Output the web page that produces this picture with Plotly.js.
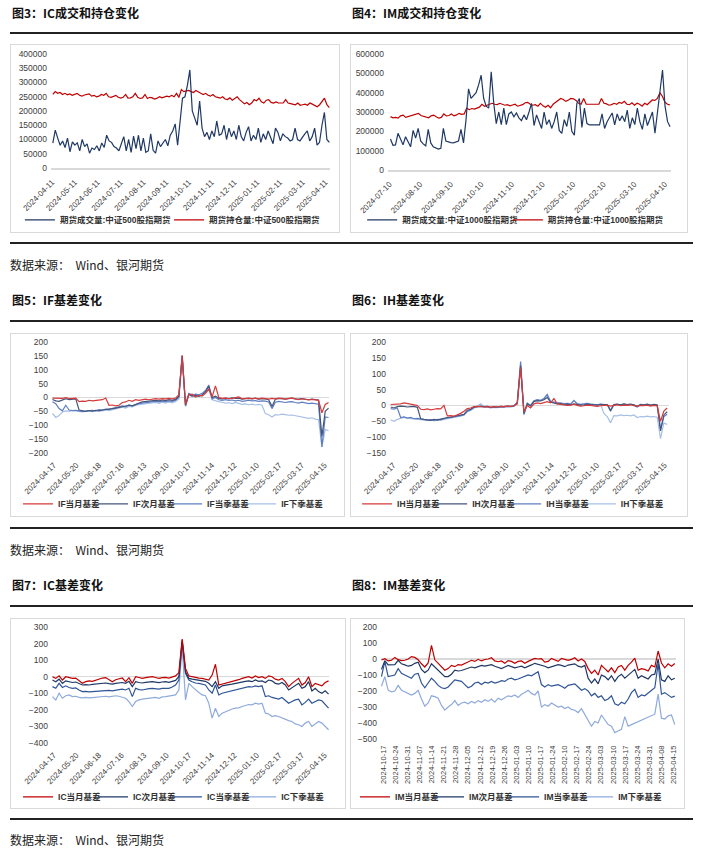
<!DOCTYPE html>
<html><head><meta charset="utf-8">
<script src="https://cdn.plot.ly/plotly-3.0.1.min.js"></script>
<style>
body{margin:0;background:#fff;width:703px;height:848px;position:relative;overflow:hidden;font-family:'Noto Sans CJK SC',sans-serif;}
.t{position:absolute;font-size:12px;line-height:14px;font-weight:bold;color:#111;white-space:nowrap;}
.s{position:absolute;font-size:12px;line-height:14px;color:#222;white-space:pre;}
.hr{position:absolute;height:1.5px;background:#222;left:10px;width:683px;}
.box{position:absolute;border:1px solid #d9d9d9;box-sizing:border-box;}
.pl{position:absolute;}
</style></head><body>
<div class="t" style="left:12px;top:6px">图3：IC成交和持仓变化</div>
<div class="t" style="left:352px;top:6px">图4：IM成交和持仓变化</div>
<div class="hr" style="top:32px"></div>
<div class="box" style="left:10px;top:44px;width:330px;height:189px"></div>
<div class="box" style="left:350px;top:44px;width:338px;height:189px"></div>
<div class="hr" style="top:242px"></div>
<div class="s" style="left:10px;top:258px">数据来源：  Wind、银河期货</div>

<div class="t" style="left:12px;top:293px">图5：IF基差变化</div>
<div class="t" style="left:352px;top:293px">图6：IH基差变化</div>
<div class="hr" style="top:320px"></div>
<div class="box" style="left:10px;top:333px;width:335px;height:184px"></div>
<div class="box" style="left:350px;top:333px;width:338px;height:184px"></div>
<div class="hr" style="top:527px"></div>
<div class="s" style="left:10px;top:543px">数据来源：  Wind、银河期货</div>

<div class="t" style="left:12px;top:578px">图7：IC基差变化</div>
<div class="t" style="left:352px;top:578px">图8：IM基差变化</div>
<div class="hr" style="top:605px"></div>
<div class="box" style="left:10px;top:618px;width:336px;height:191px"></div>
<div class="box" style="left:350px;top:618px;width:335px;height:191px"></div>
<div class="hr" style="top:818px"></div>
<div class="s" style="left:10px;top:833px">数据来源：  Wind、银河期货</div>

<div id="p1" class="pl" style="left:10px;top:44px"></div>
<div id="p2" class="pl" style="left:350px;top:44px"></div>
<div id="p3" class="pl" style="left:10px;top:333px"></div>
<div id="p4" class="pl" style="left:350px;top:333px"></div>
<div id="p5" class="pl" style="left:10px;top:618px"></div>
<div id="p6" class="pl" style="left:350px;top:618px"></div>
<script>
// ---------- tick labels ----------
const icVolTicks = ['2024-04-11','2024-05-11','2024-06-11','2024-07-11','2024-08-11','2024-09-11','2024-10-11','2024-11-11','2024-12-11','2025-01-11','2025-02-11','2025-03-11','2025-04-11'];
const imVolTicks = ['2024-07-10','2024-08-10','2024-09-10','2024-10-10','2024-11-10','2024-12-10','2025-01-10','2025-02-10','2025-03-10','2025-04-10'];
const basisTicks = ['2024-04-17','2024-05-20','2024-06-18','2024-07-16','2024-08-13','2024-09-10','2024-10-17','2024-11-14','2024-12-12','2025-01-10','2025-02-17','2025-03-17','2025-04-15'];
const imBasisTicks = ['2024-10-17','2024-10-24','2024-10-31','2024-11-07','2024-11-14','2024-11-21','2024-11-28','2024-12-05','2024-12-12','2024-12-19','2024-12-26','2025-01-03','2025-01-10','2025-01-17','2025-01-24','2025-02-10','2025-02-17','2025-02-24','2025-03-03','2025-03-10','2025-03-17','2025-03-24','2025-03-31','2025-04-08','2025-04-15'];

// ---------- 图3 IC 成交/持仓 ----------
const icVolume = [87000,133000,105000,80000,95000,72000,105000,57000,92000,80000,
88000,60000,100000,75000,85000,52000,70000,65000,78000,60000,
88000,72000,115000,95000,90000,75000,70000,60000,85000,110000,
60000,100000,55000,112000,68000,115000,60000,105000,55000,60000,
120000,62000,52000,95000,75000,90000,100000,78000,115000,130000,
155000,80000,160000,245000,250000,290000,344000,200000,175000,150000,
235000,140000,110000,125000,100000,130000,110000,165000,115000,120000,
150000,100000,140000,110000,130000,100000,150000,110000,95000,125000,
145000,95000,115000,100000,140000,90000,120000,100000,130000,110000,
85000,140000,125000,95000,120000,110000,105000,95000,100000,140000,
100000,95000,110000,120000,130000,95000,110000,140000,80000,90000,
150000,195000,100000,90000];
const icOpenInt = [258000,268000,262000,265000,258000,262000,257000,260000,255000,258000,
262000,255000,252000,256000,258000,260000,252000,255000,250000,252000,
258000,255000,262000,250000,248000,252000,255000,248000,245000,248000,
258000,245000,246000,250000,262000,248000,244000,246000,258000,244000,
248000,246000,242000,245000,250000,246000,248000,252000,250000,255000,
250000,262000,248000,275000,268000,270000,272000,268000,265000,272000,
266000,262000,258000,262000,255000,252000,258000,250000,248000,245000,
250000,242000,240000,246000,238000,245000,250000,240000,232000,225000,
230000,222000,228000,240000,236000,245000,232000,228000,238000,240000,
230000,228000,232000,228000,228000,228000,240000,228000,226000,225000,
222000,228000,220000,222000,224000,220000,228000,224000,218000,215000,
222000,232000,245000,222000,212000];

// ---------- 图4 IM 成交/持仓 ----------
const imVolume = [160000,128000,130000,190000,160000,130000,172000,145000,120000,205000,
165000,215000,150000,135000,125000,210000,140000,120000,115000,108000,
112000,215000,150000,145000,142000,140000,145000,150000,210000,140000,
260000,420000,370000,385000,400000,440000,490000,370000,330000,320000,508000,345000,
240000,300000,235000,320000,235000,290000,300000,275000,295000,270000,
255000,285000,260000,300000,345000,230000,285000,250000,215000,300000,
235000,260000,215000,250000,300000,205000,190000,260000,225000,300000,
200000,180000,345000,370000,220000,320000,
240000,233000,233000,233000,233000,233000,290000,215000,250000,275000,
295000,233000,290000,255000,280000,250000,310000,215000,270000,235000,
320000,250000,210000,290000,230000,265000,300000,190000,300000,390000,
517000,330000,250000,224000];
const imOpenInt = [276000,270000,272000,268000,280000,284000,272000,276000,280000,285000,
290000,293000,282000,278000,275000,270000,280000,284000,275000,268000,
272000,290000,280000,282000,290000,280000,285000,293000,288000,290000,
320000,312000,318000,315000,320000,325000,340000,330000,335000,340000,345000,
340000,338000,345000,340000,335000,338000,332000,336000,340000,330000,
335000,338000,348000,350000,340000,335000,338000,330000,345000,332000,
325000,335000,322000,340000,350000,360000,370000,365000,355000,362000,
370000,368000,360000,345000,340000,370000,
340000,340000,340000,340000,340000,340000,370000,345000,342000,335000,
338000,345000,340000,350000,345000,355000,340000,338000,348000,335000,
345000,340000,330000,345000,338000,350000,362000,360000,370000,400000,
380000,350000,340000,336000];

// ---------- 图5 IF 基差 ----------
const ifCurMonth = [-2,-3,-4,-3,0,-4,-3,-2,-15,-13,-14,-10,-12,-10,-8,-8,-2,-28,-27,-30,-28,-18,-16,-10,-14,-8,-10,-7,-6,-8,-5,-4,-6,-4,-5,-3,-5,-2,10,150,-25,10,12,2,8,5,15,30,2,42,0,-3,-2,-4,-3,-1,2,-5,-3,-2,-4,-3,-5,-2,-4,-6,-3,-5,-2,-4,-6,-3,-2,-5,-8,-4,-6,-9,-7,-8,-10,-55,-25,-18];
const ifNextMonth = [-7,-12,-14,-8,-4,-8,-6,-5,-45,-48,-50,-47,-49,-46,-48,-45,-44,-42,-40,-38,-36,-33,-32,-28,-30,-24,-20,-16,-15,-13,-12,-10,-12,-9,-11,-8,-10,-7,5,150,-28,12,5,8,4,10,20,40,0,5,-3,-5,-2,-4,-1,-3,-2,-6,-4,-3,-5,-2,-6,-4,-5,-8,-32,-6,-4,-3,-6,-4,-2,-5,-6,-4,-5,-8,-6,-7,-9,-140,-50,-38];
const ifCurQuarter = [-15,-22,-40,-48,-28,-45,-47,-46,-48,-50,-49,-47,-46,-48,-44,-45,-42,-43,-40,-38,-35,-30,-34,-27,-30,-25,-22,-20,-18,-17,-16,-14,-16,-13,-15,-12,-14,-10,0,152,-30,15,8,12,10,15,25,45,-5,0,-8,-10,-8,-10,-9,-12,-10,-14,-12,-10,-12,-11,-14,-12,-13,-16,-40,-17,-14,-15,-18,-16,-15,-18,-20,-17,-19,-22,-20,-21,-24,-178,-70,-72];
const ifNextQuarter = [-57,-72,-65,-52,-48,-50,-47,-49,-50,-52,-50,-48,-51,-49,-47,-48,-45,-47,-44,-42,-40,-35,-38,-32,-34,-28,-26,-24,-22,-21,-20,-18,-21,-17,-20,-16,-19,-14,-5,140,-32,10,2,6,4,8,15,30,-8,-12,-15,-17,-20,-19,-22,-18,-21,-25,-23,-26,-24,-27,-25,-28,-58,-62,-70,-62,-63,-60,-62,-64,-63,-65,-67,-70,-72,-75,-73,-78,-80,-178,-115,-120];

// ---------- 图6 IH 基差 ----------
const ihCurMonth = [3,4,3,5,8,5,4,2,0,-12,-13,-11,-14,-12,-10,-11,0,-33,-32,-34,-30,-25,-18,-10,-8,-4,-3,-4,-5,-3,-6,-4,-5,-3,-4,-2,-3,-1,5,120,-20,0,-8,5,8,6,10,12,8,22,5,3,2,0,1,4,0,-2,-1,1,0,-2,-3,-1,0,1,-2,0,2,-1,1,0,2,-1,-2,0,-1,1,-2,0,-1,-50,-18,-8];
const ihNextMonth = [-5,-8,-4,-2,-3,-5,-4,-3,-6,-42,-44,-45,-47,-44,-46,-43,-40,-38,-37,-35,-33,-30,-28,-15,-12,-5,-3,-2,-4,-3,-6,-4,-5,-3,-4,-2,-3,-1,8,125,-25,5,-2,12,15,14,18,25,10,8,5,6,3,4,2,5,3,1,2,4,3,2,1,3,2,3,-15,3,4,2,5,3,4,2,-3,3,2,4,1,3,2,-80,-30,-20];
const ihCurQuarter = [-10,-12,-8,-38,-36,-40,-38,-42,-41,-43,-44,-46,-45,-47,-44,-45,-42,-40,-38,-37,-35,-32,-30,-18,-14,-6,-4,-3,-5,-4,-7,-5,-6,-4,-5,-3,-4,-2,10,138,-28,8,0,15,18,16,22,35,12,10,8,7,5,6,4,15,5,3,4,6,4,3,2,4,3,2,-18,2,3,1,4,2,3,1,-5,2,1,3,0,2,0,-75,-35,-28];
const ihNextQuarter = [-45,-50,-44,-42,-38,-40,-42,-43,-44,-45,-47,-48,-46,-49,-46,-47,-44,-42,-40,-39,-37,-34,-30,-20,-16,-8,-2,5,-3,-5,-8,-6,-7,-5,-6,-4,-5,-3,5,130,-30,5,-3,14,16,15,20,30,12,10,8,9,6,7,5,16,6,4,5,7,4,3,2,4,-25,-35,-55,-32,-33,-30,-32,-31,-33,-30,-38,-35,-36,-34,-36,-35,-37,-105,-55,-60];

// ---------- 图7 IC 基差 ----------
const icCurMonth = [0,-10,5,-20,0,-5,-10,-8,-25,-40,-30,-25,-28,-20,-15,-8,-5,-20,-30,-18,-12,-8,-30,-6,-40,0,-5,-10,-6,-3,0,-5,-10,-6,-4,-8,0,5,25,227,50,5,0,-5,-8,-10,-15,-20,10,75,-50,-45,-40,-35,-30,-22,-18,-10,-5,0,-8,5,-5,0,-10,5,0,-15,-20,-10,-30,-60,-40,-25,-10,-50,-35,0,-60,-40,-50,-55,-35,-25];
const icNextMonth = [-20,-30,-15,-40,-25,-30,-35,-32,-40,-50,-48,-50,-46,-45,-40,-42,-38,-42,-45,-40,-38,-35,-40,-28,-60,-30,-35,-38,-34,-32,-30,-33,-36,-32,-30,-34,-28,-22,0,220,30,-10,-15,-18,-20,-22,-28,-40,-60,-30,-70,-55,-50,-48,-45,-40,-35,-30,-28,-25,-30,-20,-28,-25,-35,-20,-25,-40,-45,-35,-50,-80,-65,-50,-40,-70,-60,-30,-86,-70,-90,-100,-85,-105];
const icCurQuarter = [-60,-70,-40,-65,-55,-65,-70,-68,-80,-90,-88,-92,-90,-88,-85,-82,-80,-82,-85,-80,-78,-75,-80,-70,-120,-70,-78,-80,-75,-72,-70,-72,-75,-70,-68,-70,-62,-50,-20,210,20,-20,-30,-38,-40,-45,-50,-80,-100,-50,-110,-100,-95,-90,-85,-80,-78,-70,-65,-60,-62,-55,-60,-55,-120,-115,-125,-130,-135,-125,-140,-160,-150,-140,-135,-170,-155,-135,-160,-150,-140,-145,-170,-190];
const icNextQuarter = [-120,-140,-100,-130,-115,-110,-120,-118,-125,-128,-125,-128,-126,-125,-122,-120,-118,-122,-120,-115,-118,-122,-130,-150,-180,-150,-140,-135,-132,-130,-128,-125,-130,-122,-120,-118,-115,-110,-80,180,-140,-40,-60,-80,-95,-110,-115,-160,-250,-190,-240,-220,-210,-200,-195,-190,-188,-180,-175,-168,-170,-160,-165,-160,-220,-225,-240,-235,-240,-250,-255,-265,-270,-285,-290,-300,-280,-270,-300,-285,-270,-280,-300,-320];

// ---------- 图8 IM 基差 ----------
const imCurMonth = [-6,2,-12,-8,10,-4,-10,-8,0,15,10,-5,-30,-50,-25,85,-5,-25,-50,-70,-60,-40,-48,-35,-38,-28,-20,-8,-15,-2,-12,-3,0,8,-12,-17,-12,-27,-10,-15,-27,-15,-12,-27,-15,-5,4,0,2,-20,-15,4,-8,-15,4,0,-8,-2,8,-12,0,-15,-60,-90,-70,-100,-40,-60,-80,-55,-85,-50,-40,-70,-40,-20,5,-70,-60,-65,-75,-40,-50,50,-25,-55,-30,-45,-28];
const imNextMonth = [-65,-10,-37,-37,-35,-8,-30,-37,-45,-40,-27,-20,-65,-85,-70,-30,-50,-75,-95,-110,-110,-95,-70,-75,-72,-65,-58,-50,-55,-48,-40,-45,-38,-35,-45,-55,-60,-50,-40,-48,-55,-50,-45,-55,-48,-37,-27,-32,-38,-45,-55,-48,-42,-35,-40,-48,-38,-32,-30,-45,-50,-40,-120,-150,-125,-155,-100,-110,-130,-105,-140,-110,-95,-120,-100,-80,-65,-120,-105,-115,-125,-100,-95,0,-130,-140,-105,-130,-120];
const imCurQuarter = [-110,-15,-110,-105,-100,-60,-90,-100,-110,-120,-95,-90,-150,-180,-150,-120,-140,-165,-180,-185,-175,-150,-130,-135,-140,-160,-180,-170,-150,-145,-160,-145,-150,-140,-150,-145,-135,-140,-125,-120,-130,-125,-115,-110,-100,-105,-95,-80,-160,-175,-160,-170,-165,-160,-170,-183,-165,-160,-155,-175,-195,-185,-200,-230,-215,-240,-230,-260,-250,-230,-280,-290,-270,-280,-250,-210,-190,-240,-225,-230,-215,-200,-180,-30,-220,-210,-225,-240,-232];
const imNextQuarter = [-170,-110,-195,-205,-200,-165,-195,-205,-210,-225,-215,-195,-250,-295,-275,-230,-235,-245,-290,-320,-300,-285,-260,-290,-275,-270,-280,-265,-275,-260,-270,-255,-265,-250,-270,-245,-255,-240,-230,-235,-225,-240,-220,-210,-195,-215,-225,-200,-300,-285,-295,-275,-290,-300,-295,-310,-300,-315,-320,-335,-310,-350,-380,-420,-390,-400,-350,-380,-410,-420,-460,-450,-440,-360,-420,-410,-400,-395,-380,-370,-365,-350,-345,-220,-370,-375,-355,-350,-410];

// ---------- colours ----------
const RED = '#c00000', NAVY = '#1f3864', MID = '#2f5597', LIGHT = '#8faadc';
const RED2 = '#d63a3a', NAVY2 = '#44557a', MID2 = '#5f7fc2', LIGHT2 = '#a7bfe6';
const FONT = "'Liberation Sans', 'Noto Sans CJK SC', sans-serif";

function makePanel(id, cfg) {
  const traces = cfg.series.map((s, idx) => {
    const n = s.values.length;
    const xs = s.values.map((_, i) => cfg.x0 + i * (cfg.x1 - cfg.x0) / (n - 1));
    return {
      x: xs, y: s.values, type: 'scatter', mode: 'lines', name: s.name,
      line: {color: s.color, width: cfg.lw || 1.2},
      legend: idx === 0 ? 'legend' : 'legend' + (idx + 1),
      hoverinfo: 'skip'
    };
  });
  const ordered = traces.slice().reverse();
  const layout = {
    width: cfg.w, height: cfg.h, margin: cfg.m,
    paper_bgcolor: 'rgba(0,0,0,0)', plot_bgcolor: 'rgba(0,0,0,0)',
    font: {family: FONT, color: '#404040'},
    showlegend: true,
    xaxis: {
      range: cfg.xr, tickvals: cfg.ticks.map((_, i) => i), ticktext: cfg.ticks,
      tickangle: cfg.tickangle, tickfont: {size: cfg.xfs || 8, color: '#404040'},
      showgrid: false, zeroline: false, showline: !!cfg.xline, linecolor: '#d9d9d9', linewidth: 1.5,
      ticks: '', ticklabelstandoff: cfg.xstand || 5, fixedrange: true
    },
    yaxis: {
      range: cfg.yr, dtick: cfg.dtick, tick0: 0, tickformat: 'd',
      showgrid: false, showline: false, ticks: '',
      zeroline: !!cfg.zero, zerolinecolor: '#d9d9d9', zerolinewidth: 1.5,
      tickfont: {size: 8.5, color: '#404040'}, ticklabelstandoff: 3, fixedrange: true
    }
  };
  cfg.legendX.forEach((lx, idx) => {
    layout[idx === 0 ? 'legend' : 'legend' + (idx + 1)] = {
      x: lx, y: cfg.legendY, xref: 'container', yref: 'container',
      xanchor: 'left', yanchor: 'middle', orientation: 'h',
      bgcolor: 'rgba(0,0,0,0)', borderwidth: 0, itemwidth: 30,
      font: {family: FONT, size: 8.5, color: '#333', weight: 'bold'}
    };
  });
  Plotly.newPlot(id, ordered, layout, {staticPlot: true, displayModeBar: false});
}

makePanel('p1', {
  w: 330, h: 189, m: {l: 41, r: 10, t: 10, b: 65},
  xr: [-0.05, 12.2], x0: 0.03, x1: 12.17, ticks: icVolTicks, tickangle: -45, xline: true,
  yr: [0, 400000], dtick: 50000,
  series: [
    {name: '期货成交量:中证500股指期货', values: icVolume, color: NAVY},
    {name: '期货持仓量:中证500股指期货', values: icOpenInt, color: RED}
  ],
  legendX: [0.030, 0.482], legendY: 0.069
});
makePanel('p2', {
  w: 338, h: 189, m: {l: 37.5, r: 16.6, t: 10, b: 63},
  xr: [-0.05, 9.2], x0: 0.03, x1: 9.17, ticks: imVolTicks, tickangle: -45, xline: true,
  yr: [0, 600000], dtick: 100000,
  series: [
    {name: '期货成交量:中证1000股指期货', values: imVolume, color: NAVY},
    {name: '期货持仓量:中证1000股指期货', values: imOpenInt, color: RED}
  ],
  legendX: [0.036, 0.467], legendY: 0.069
});
makePanel('p3', {
  w: 335, h: 184, m: {l: 42, r: 15.6, t: 9, b: 64},
  xr: [-0.08, 12.2], x0: -0.06, x1: 12.18, ticks: basisTicks, tickangle: -45, zero: true,
  yr: [-200, 200], dtick: 50,
  series: [
    {name: 'IF当月基差', values: ifCurMonth, color: RED2},
    {name: 'IF次月基差', values: ifNextMonth, color: NAVY2},
    {name: 'IF当季基差', values: ifCurQuarter, color: MID2},
    {name: 'IF下季基差', values: ifNextQuarter, color: LIGHT2}
  ],
  legendX: [0.024, 0.248, 0.469, 0.690], legendY: 0.071
});
makePanel('p4', {
  w: 338, h: 184, m: {l: 40.3, r: 18.6, t: 9, b: 64},
  xr: [-0.15, 12.2], x0: -0.12, x1: 12.12, ticks: basisTicks, tickangle: -45, zero: true,
  yr: [-150, 200], dtick: 50,
  series: [
    {name: 'IH当月基差', values: ihCurMonth, color: RED2},
    {name: 'IH次月基差', values: ihNextMonth, color: NAVY2},
    {name: 'IH当季基差', values: ihCurQuarter, color: MID2},
    {name: 'IH下季基差', values: ihNextQuarter, color: LIGHT2}
  ],
  legendX: [0.021, 0.243, 0.462, 0.683], legendY: 0.071
});
makePanel('p5', {
  w: 336, h: 191, m: {l: 42, r: 16.6, t: 9, b: 66},
  xr: [-0.08, 12.2], x0: -0.06, x1: 12.18, ticks: basisTicks, tickangle: -45, zero: true,
  yr: [-400, 300], dtick: 100,
  series: [
    {name: 'IC当月基差', values: icCurMonth, color: RED},
    {name: 'IC次月基差', values: icNextMonth, color: NAVY},
    {name: 'IC当季基差', values: icCurQuarter, color: MID},
    {name: 'IC下季基差', values: icNextQuarter, color: LIGHT}
  ],
  legendX: [0.024, 0.247, 0.467, 0.688], legendY: 0.063
});
makePanel('p6', {
  w: 335, h: 191, m: {l: 31, r: 9.4, t: 9, b: 70},
  xr: [-0.2, 24.2], x0: -0.16, x1: 24.1, ticks: imBasisTicks, tickangle: -90, zero: true, xfs: 7.5, xstand: 4,
  yr: [-500, 200], dtick: 100,
  series: [
    {name: 'IM当月基差', values: imCurMonth, color: RED},
    {name: 'IM次月基差', values: imNextMonth, color: NAVY},
    {name: 'IM当季基差', values: imCurQuarter, color: MID},
    {name: 'IM下季基差', values: imNextQuarter, color: LIGHT}
  ],
  legendX: [0.015, 0.236, 0.460, 0.681], legendY: 0.063
});
</script>
</body></html>
